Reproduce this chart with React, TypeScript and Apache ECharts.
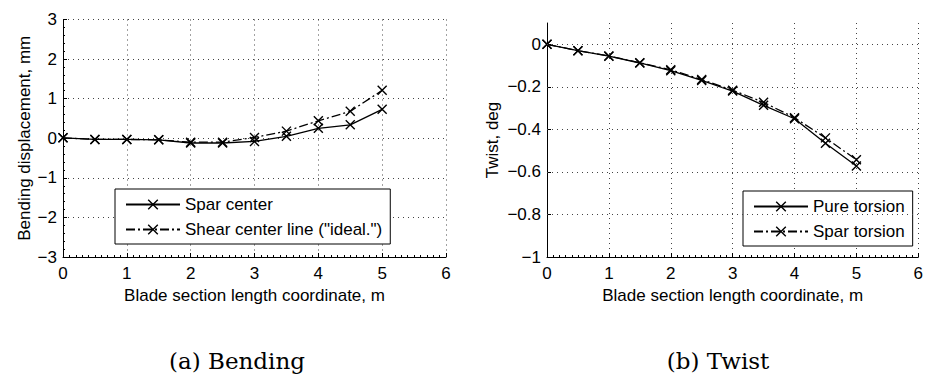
import React, { useEffect, useRef } from "react";
import * as echarts from "echarts";

const positions = [0, 0.5, 1, 1.5, 2, 2.5, 3, 3.5, 4, 4.5, 5];
const sparCenter = [0.01, -0.03, -0.03, -0.04, -0.12, -0.12, -0.08, 0.05, 0.25, 0.34, 0.73];
const shearCenter = [0.01, -0.03, -0.03, -0.04, -0.1, -0.1, 0.02, 0.18, 0.44, 0.68, 1.21];
const pureTorsion = [0, -0.03, -0.056, -0.088, -0.124, -0.17, -0.22, -0.287, -0.35, -0.465, -0.572];
const sparTorsion = [0, -0.03, -0.055, -0.087, -0.12, -0.166, -0.216, -0.273, -0.345, -0.44, -0.543];
const twistGridValues = [0, -0.2, -0.4, -0.6, -0.8];
const twistTickValues = [-1, -0.8, -0.6, -0.4, -0.2, 0];

const SANS = "'Liberation Sans', Arial, Helvetica, sans-serif";
const SERIF = "'DejaVu Serif', 'Liberation Serif', serif";
const FS = 17;
const X_MARK = "path://M0,0L10,10M10,0L0,10";
const DASHDOT = [9, 3, 2, 3];

const minus = (s: string) => s.replace("-", "\u2212");

function pairs(ys: number[]) {
  return positions.map((x, i) => [x, ys[i]]);
}

export default function App() {
  const ref = useRef<HTMLDivElement>(null);
  useEffect(() => {
    if (!ref.current) return;
    const chart = echarts.init(ref.current, undefined, { renderer: "svg" });
    const axisCommon = {
      axisLine: { show: true, onZero: false, lineStyle: { color: "#000", width: 1 } },
      axisTick: { show: true, inside: true, length: 4, lineStyle: { color: "#000" } },
      minorTick: { show: true, splitNumber: 10, length: 2, lineStyle: { color: "#000" } },
      nameTextStyle: { color: "#000", fontSize: FS, fontFamily: SANS },
    };
    const xAxisBase = (gridIndex: number) => ({
      ...axisCommon,
      type: "value",
      gridIndex,
      min: 0,
      max: 6,
      interval: 1,
      name: "Blade section length coordinate, m",
      nameLocation: "middle",
      nameGap: 25,
      axisLabel: { color: "#000", fontSize: FS, fontFamily: SANS, margin: 8 },
      splitLine: { show: true, lineStyle: { color: "#444", type: [1, 4], width: 1 } },
    });
    const lineSeries = (
      name: string,
      data: number[],
      idx: number,
      dashed: boolean
    ) => ({
      name,
      type: "line",
      xAxisIndex: idx,
      yAxisIndex: idx,
      data: pairs(data),
      symbol: X_MARK,
      symbolSize: 9,
      showSymbol: true,
      z: 3,
      lineStyle: { color: "#000", width: 1.3, type: dashed ? DASHDOT : "solid" },
      itemStyle: { color: "#000", borderColor: "#000", borderWidth: 1.4 },
    });
    const legendBase = {
      orient: "vertical",
      itemWidth: 54,
      itemHeight: 12,
      itemGap: 8,
      padding: [7, 8, 6, 10],
      borderColor: "#000",
      borderWidth: 1,
      borderRadius: 0,
      backgroundColor: "#fff",
      textStyle: { color: "#000", fontSize: FS, fontFamily: SANS },
      itemStyle: { color: "#000", borderColor: "#000", borderWidth: 1.4 },
    };
    chart.setOption({
      animation: false,
      backgroundColor: "#fff",
      grid: [
        { left: 63, top: 19.5, width: 383, height: 237.5, containLabel: false },
        { left: 547, top: 23, width: 374, height: 234, containLabel: false },
      ],
      xAxis: [xAxisBase(0), xAxisBase(1)],
      yAxis: [
        {
          ...axisCommon,
          type: "value",
          gridIndex: 0,
          min: -3,
          max: 3,
          interval: 1,
          minorTick: { show: true, splitNumber: 5, length: 2, lineStyle: { color: "#000" } },
          name: "Bending displacement, mm",
          nameLocation: "middle",
          nameGap: 30,
          axisLabel: {
            color: "#000",
            fontSize: FS,
            fontFamily: SANS,
            margin: 6,
            formatter: (v: number) => minus(String(v)),
          },
          splitLine: { show: true, lineStyle: { color: "#444", type: [1, 4], width: 1 } },
        },
        {
          ...axisCommon,
          type: "value",
          gridIndex: 1,
          min: -1,
          max: 0.1,
          interval: 0.2,
          minorTick: { show: false },
          name: "Twist, deg",
          nameLocation: "middle",
          nameGap: 46,
          axisTick: {
            show: true,
            inside: true,
            length: 4,
            lineStyle: { color: "#000" },
            customValues: twistTickValues,
          },
          axisLabel: {
            color: "#000",
            fontSize: FS,
            fontFamily: SANS,
            margin: 6,
            customValues: twistTickValues,
            formatter: (v: number) =>
              v > 0.05 ? "" : minus(String(Number(v.toFixed(1)))),
          },
          splitLine: { show: false },
        },
      ],
      legend: [
        {
          ...legendBase,
          left: 115,
          top: 189,
          data: ["Spar center", 'Shear center line ("ideal.")'],
        },
        {
          ...legendBase,
          left: 743,
          top: 191,
          data: ["Pure torsion", "Spar torsion"],
        },
      ],
      series: [
        {
          name: "twist-grid",
          type: "line",
          xAxisIndex: 1,
          yAxisIndex: 1,
          data: [],
          z: 1,
          silent: true,
          markLine: {
            silent: true,
            symbol: "none",
            label: { show: false },
            lineStyle: { color: "#444", type: [1, 4], width: 1 },
            data: twistGridValues.map((v) => ({ yAxis: v })),
          },
        },
        lineSeries("Spar center", sparCenter, 0, false),
        lineSeries('Shear center line ("ideal.")', shearCenter, 0, true),
        lineSeries("Pure torsion", pureTorsion, 1, false),
        lineSeries("Spar torsion", sparTorsion, 1, true),
      ],
      graphic: [
        {
          type: "text",
          x: 237,
          y: 361,
          style: {
            text: "(a) Bending",
            font: `23px ${SERIF}`,
            fill: "#000",
            textAlign: "center",
            textVerticalAlign: "middle",
          },
        },
        {
          type: "text",
          x: 718,
          y: 361,
          style: {
            text: "(b) Twist",
            font: `23px ${SERIF}`,
            fill: "#000",
            textAlign: "center",
            textVerticalAlign: "middle",
          },
        },
      ],
    });
    return () => chart.dispose();
  }, []);
  return (
    <div
      ref={ref}
      style={{ position: "fixed", left: 0, top: 0, width: 926, height: 376 }}
    />
  );
}
